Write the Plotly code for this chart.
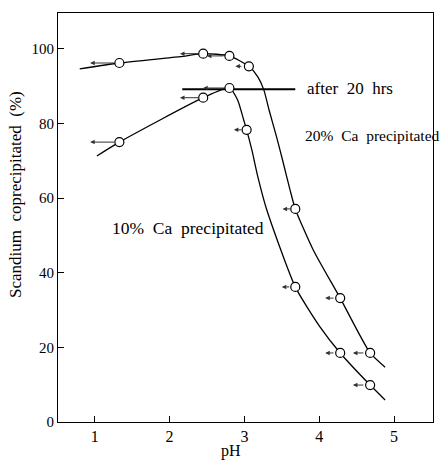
import plotly.graph_objects as go

# ---- data ----
ph_20_curve = [0.80, 1.33, 2.14, 2.45, 2.80, 3.06, 3.18, 3.26, 3.33, 3.43, 3.52, 3.61, 3.68, 3.92, 4.28, 4.68, 4.88]
sc_20_curve = [94.6, 96.2, 97.9, 98.7, 98.1, 95.3, 92.5, 89.0, 83.6, 76.4, 69.4, 62.2, 57.1, 46.1, 33.2, 18.5, 14.7]
ph_10_curve = [1.03, 1.33, 2.45, 2.80, 2.91, 2.99, 3.03, 3.10, 3.18, 3.30, 3.68, 4.01, 4.28, 4.68, 4.88]
sc_10_curve = [71.3, 75.0, 86.9, 89.5, 86.3, 81.0, 78.3, 72.9, 65.7, 56.8, 36.2, 25.5, 18.5, 9.9, 5.9]

ph_20_pts = [1.33, 2.45, 2.80, 3.06, 3.68, 4.28, 4.68]
sc_20_pts = [96.2, 98.7, 98.1, 95.3, 57.1, 33.2, 18.5]
ph_10_pts = [1.33, 2.45, 2.80, 3.03, 3.68, 4.28, 4.68]
sc_10_pts = [75.0, 86.9, 89.5, 78.3, 36.2, 18.5, 9.9]

arrow_20_from = [1.28, 2.41, 2.74, 2.98, 3.63, 4.21, 4.61]
arrow_20_to = [0.94, 2.14, 2.50, 2.88, 3.51, 4.08, 4.45]
arrow_10_from = [1.28, 2.41, 2.77, 2.98, 3.62, 4.21, 4.61]
arrow_10_to = [0.94, 2.14, 2.45, 2.86, 3.50, 4.08, 4.45]

after20_ph = [2.17, 3.68]
after20_sc = [89.2, 89.2]

x_ticks = [1, 2, 3, 4, 5]
y_ticks = [0, 20, 40, 60, 80, 100]

FONT = "Liberation Serif"
NB = "\u00a0\u00a0"

fig = go.Figure()

line_style = dict(color="black", width=1.3, shape="spline", smoothing=0.6)
fig.add_trace(go.Scatter(x=ph_20_curve, y=sc_20_curve, mode="lines", line=line_style, hoverinfo="skip"))
fig.add_trace(go.Scatter(x=ph_10_curve, y=sc_10_curve, mode="lines", line=line_style, hoverinfo="skip"))
fig.add_trace(go.Scatter(x=after20_ph, y=after20_sc, mode="lines",
                         line=dict(color="black", width=2), hoverinfo="skip"))

marker_style = dict(symbol="circle", size=9, color="white", line=dict(color="black", width=1.2))
fig.add_trace(go.Scatter(x=ph_20_pts, y=sc_20_pts, mode="markers", marker=marker_style))
fig.add_trace(go.Scatter(x=ph_10_pts, y=sc_10_pts, mode="markers", marker=marker_style))

annotations = []
for starts, ends, ys in [(arrow_20_from, arrow_20_to, sc_20_pts), (arrow_10_from, arrow_10_to, sc_10_pts)]:
    for s, e, yv in zip(starts, ends, ys):
        annotations.append(dict(x=e, y=yv, ax=s, ay=yv, xref="x", yref="y", axref="x", ayref="y",
                                text="", showarrow=True, arrowhead=2, arrowsize=0.9,
                                arrowwidth=1, arrowcolor="#333"))

annotations += [
    dict(x=3.81, y=89.3, xref="x", yref="y", text="after" + NB + "20" + NB + "hrs", showarrow=False,
         xanchor="left", yanchor="middle", font=dict(family=FONT, size=17, color="black")),
    dict(x=3.78, y=76.9, xref="x", yref="y", text="20%" + NB + "Ca" + NB + "precipitated", showarrow=False,
         xanchor="left", yanchor="middle", font=dict(family=FONT, size=15.5, color="black")),
    dict(x=1.21, y=52.0, xref="x", yref="y", text="10%" + NB + "Ca" + NB + "precipitated", showarrow=False,
         xanchor="left", yanchor="middle", font=dict(family=FONT, size=17.5, color="black")),
    dict(x=16, y=195, xref="paper", yref="paper", text="Scandium" + NB + "coprecipitated" + NB + "(%)",
         showarrow=False, textangle=-90, font=dict(family=FONT, size=17, color="black")),
    dict(x=231, y=451, xref="paper", yref="paper", text="pH", showarrow=False,
         font=dict(family=FONT, size=16, color="black")),
]

# convert pixel-based paper positions for the two axis-title annotations
W, H = 441, 468
L, R, T, B = 58, 8, 13, 46
pw, ph = W - L - R, H - T - B
for a in annotations[-2:]:
    px, py = a["x"], a["y"]
    a["x"] = (px - L) / pw
    a["y"] = 1 - (py - T) / ph
    a["xanchor"] = "center"
    a["yanchor"] = "middle"

fig.update_layout(
    width=W, height=H,
    margin=dict(l=L, r=R, t=T, b=B),
    paper_bgcolor="white", plot_bgcolor="white",
    showlegend=False,
    annotations=annotations,
    font=dict(family=FONT, size=15, color="black"),
)
fig.update_xaxes(range=[0.51, 5.52], tickvals=x_ticks, ticks="inside", ticklen=6, tickwidth=1,
                 tickcolor="black", showline=True, linecolor="black", linewidth=1.2, mirror=True,
                 showgrid=False, zeroline=False, tickfont=dict(family=FONT, size=16))
fig.update_yaxes(range=[0, 109.6], tickvals=y_ticks, ticks="inside", ticklen=6, tickwidth=1,
                 tickcolor="black", showline=True, linecolor="black", linewidth=1.2, mirror=True,
                 showgrid=False, zeroline=False, tickfont=dict(family=FONT, size=15))

fig.write_html("out.html")
